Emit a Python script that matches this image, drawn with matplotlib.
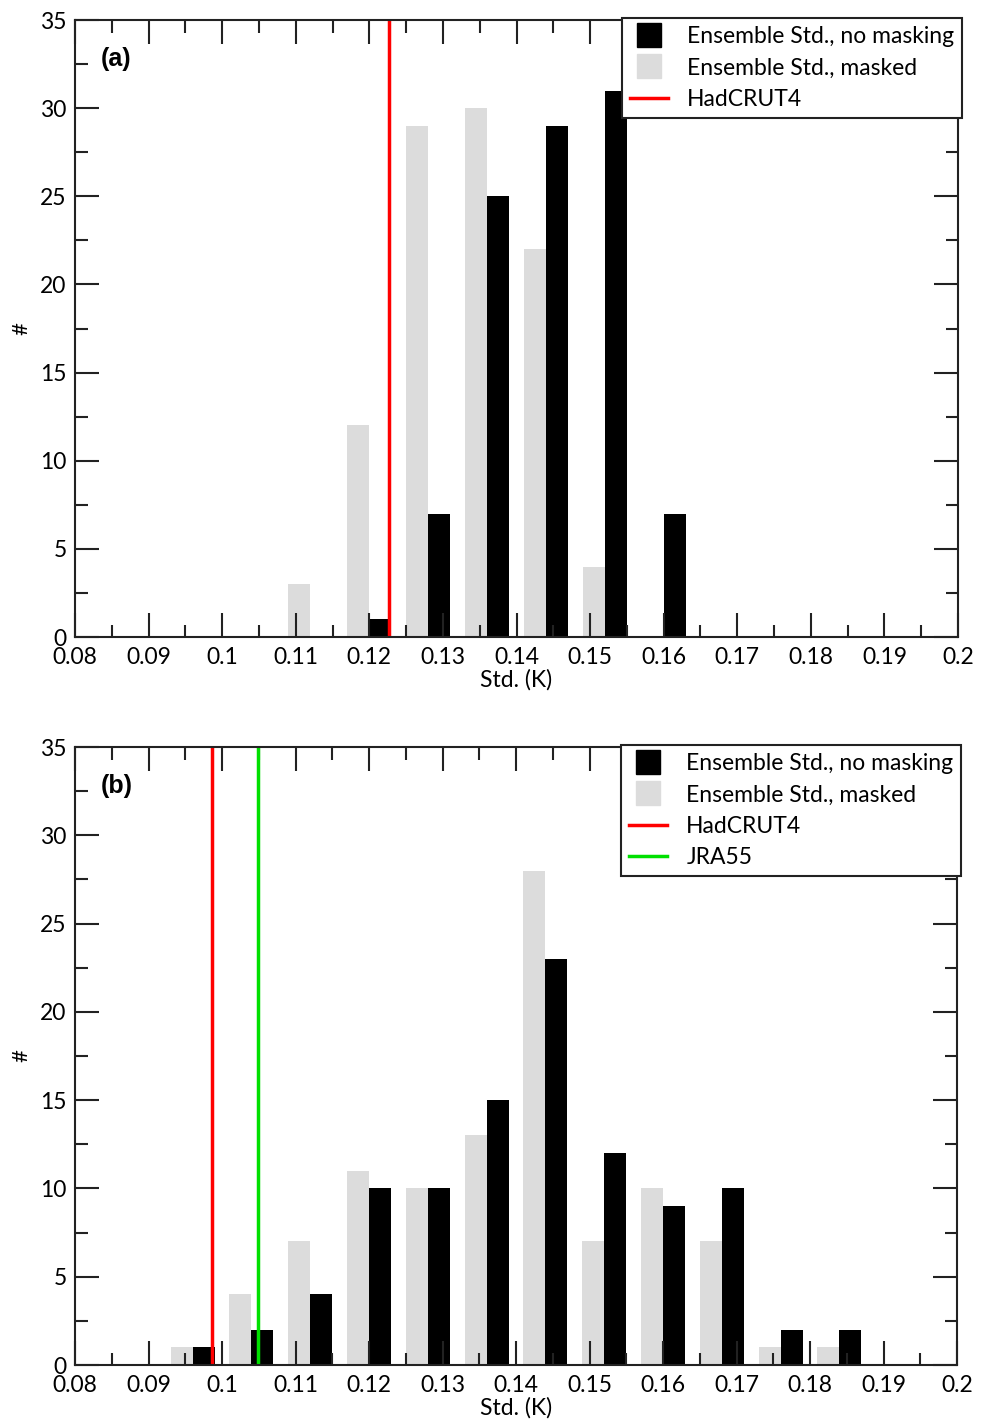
import matplotlib
matplotlib.use('Agg')
import matplotlib.pyplot as plt
from matplotlib.lines import Line2D
from matplotlib.ticker import MultipleLocator
import numpy as np

plt.rcParams['font.family'] = ['Lato', 'DejaVu Sans']

# ---- data ----
# panel (a)
bins_a = [0.112, 0.120, 0.128, 0.136, 0.144, 0.152, 0.160]
masked_a = [3, 12, 29, 30, 22, 4, 0]
nomask_a = [0, 1, 7, 25, 29, 31, 7]
hadcrut_a = 0.1227

# panel (b)
bins_b = [0.096, 0.104, 0.112, 0.120, 0.128, 0.136, 0.144, 0.152, 0.160, 0.168, 0.176, 0.184]
masked_b = [1, 4, 7, 11, 10, 13, 28, 7, 10, 7, 1, 1]
nomask_b = [1, 2, 4, 10, 10, 15, 23, 12, 9, 10, 2, 2]
hadcrut_b = 0.0986
jra55_b = 0.1049

xticks = [0.08, 0.09, 0.1, 0.11, 0.12, 0.13, 0.14, 0.15, 0.16, 0.17, 0.18, 0.19, 0.2]
xticklabels = ['0.08', '0.09', '0.1', '0.11', '0.12', '0.13', '0.14', '0.15',
               '0.16', '0.17', '0.18', '0.19', '0.2']

GRAY = '#dcdcdc'
BW = 0.003


def style_axes(ax):
    ax.set_xlim(0.08, 0.2)
    ax.set_ylim(0, 35)
    ax.set_xticks(xticks)
    ax.set_xticklabels(xticklabels)
    ax.xaxis.set_minor_locator(MultipleLocator(0.005))
    ax.yaxis.set_major_locator(MultipleLocator(5))
    ax.yaxis.set_minor_locator(MultipleLocator(2.5))
    ax.tick_params(which='both', direction='in', top=True, right=True,
                   width=1.5, labelsize=16.5, color='#222222')
    ax.tick_params(which='major', length=17)
    ax.tick_params(axis='x', pad=7)
    ax.tick_params(axis='y', pad=6)
    ax.tick_params(which='minor', length=9)
    for s in ax.spines.values():
        s.set_linewidth(1.5)
        s.set_color('#222222')
    ax.set_xlabel('Std. (K)', fontsize=16.5, labelpad=1)
    ax.set_ylabel('#', fontsize=16, labelpad=6)


def panel(ax, bins, masked, nomask, lines, tag):
    b = np.array(bins)
    ax.bar(b - BW / 2, masked, width=BW, color=GRAY, zorder=1)
    ax.bar(b + BW / 2, nomask, width=BW, color='black', zorder=1)
    handles = [Line2D([], [], ls='none', marker='s', markersize=17, color='black',
                      label='Ensemble Std., no masking'),
               Line2D([], [], ls='none', marker='s', markersize=17, color=GRAY,
                      label='Ensemble Std., masked')]
    for xv, col, name in lines:
        ax.axvline(xv, color=col, lw=2.5, zorder=2)
        handles.append(Line2D([], [], color=col, lw=2.5, label=name))
    style_axes(ax)
    ax.text(0.029, 0.937, tag, transform=ax.transAxes, fontsize=18, va='center',
            fontweight='bold', family=['Liberation Sans', 'DejaVu Sans'])
    leg = ax.legend(handles=handles, loc='upper right', bbox_to_anchor=(1.005, 1.003),
                    fontsize=16.5, frameon=True, fancybox=False, handlelength=1.65,
                    handletextpad=0.85, labelspacing=0.45,
                    borderpad=0.35, borderaxespad=0)
    leg.get_frame().set_edgecolor('#222222')
    leg.get_frame().set_linewidth(1.5)
    leg.get_frame().set_alpha(1)


fig = plt.figure(figsize=(9.86, 14.21), dpi=100)
ax1 = fig.add_axes([0.0761, 0.5517, 0.8955, 0.4342])
ax2 = fig.add_axes([0.0761, 0.0394, 0.8945, 0.4349])

panel(ax1, bins_a, masked_a, nomask_a, [(hadcrut_a, 'red', 'HadCRUT4')], '(a)')
panel(ax2, bins_b, masked_b, nomask_b,
      [(hadcrut_b, 'red', 'HadCRUT4'), (jra55_b, '#00e000', 'JRA55')], '(b)')

fig.savefig('out.png', dpi=100)
